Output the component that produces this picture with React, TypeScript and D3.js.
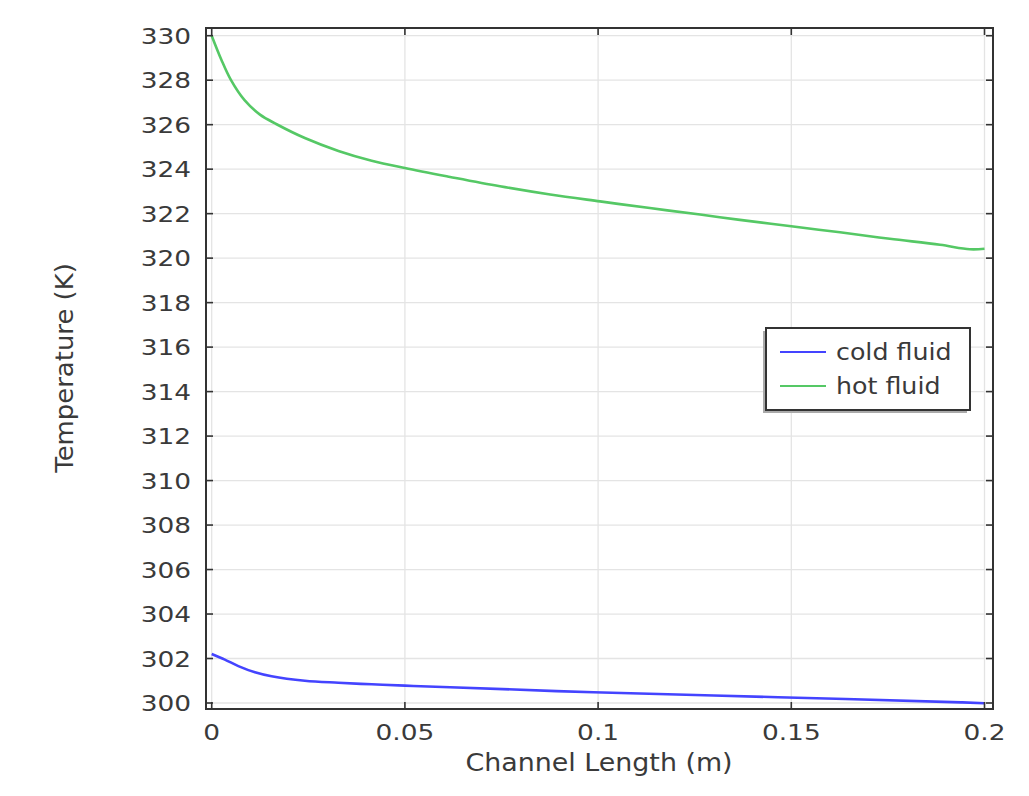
import React from "react";
import * as d3 from "d3";

const hotX = [0, 0.0025, 0.005, 0.0085, 0.0125, 0.0168, 0.0241, 0.0328, 0.0414, 0.05, 0.0617, 0.0746, 0.0876, 0.1005, 0.1134, 0.1264, 0.1367, 0.15, 0.1626, 0.1755, 0.1885, 0.1962, 0.2];
const hotT = [330, 328.92, 328.0, 327.1, 326.45, 326.02, 325.4, 324.82, 324.38, 324.05, 323.65, 323.23, 322.86, 322.55, 322.25, 321.96, 321.72, 321.43, 321.16, 320.87, 320.6, 320.4, 320.42];
const coldX = [0, 0.0034, 0.0069, 0.0112, 0.0155, 0.0241, 0.0328, 0.0414, 0.05, 0.0617, 0.0988, 0.1466, 0.194, 0.2];
const coldT = [302.2, 301.95, 301.66, 301.38, 301.2, 301.0, 300.91, 300.84, 300.78, 300.71, 300.48, 300.26, 300.03, 299.99];
const xTicks = [0, 0.05, 0.1, 0.15, 0.2];
const xTickLabels = ["0", "0.05", "0.1", "0.15", "0.2"];
const yTicks = [300, 302, 304, 306, 308, 310, 312, 314, 316, 318, 320, 322, 324, 326, 328, 330];
const seriesNames = ["cold fluid", "hot fluid"];
const seriesColors = ["#4444ff", "#55c865"];

const W = 1029, H = 796;
const frame = { left: 206, right: 993, top: 28, bottom: 709 };
const FONT = "'DejaVu Sans', Verdana, sans-serif";

export default function App() {
  const x = d3.scaleLinear().domain([0, 0.2]).range([211.7, 984.5]);
  const y = d3.scaleLinear().domain([300, 330]).range([703, 35.7]);
  const line = d3.line<[number, number]>().x(d => x(d[0])).y(d => y(d[1])).curve(d3.curveCatmullRom.alpha(0.5));
  const hot = hotX.map((v, i) => [v, hotT[i]] as [number, number]);
  const cold = coldX.map((v, i) => [v, coldT[i]] as [number, number]);
  const series = [cold, hot];
  const tk = 7;
  const lx = 766, ly = 328, lw = 204, lh = 82;
  const txt = "#3a3a3a";
  return (
    <svg width={W} height={H} style={{ position: "absolute", left: 0, top: 0, background: "#fff" }} fontFamily={FONT}>
      <rect width={W} height={H} fill="#fff" />
      {xTicks.map(t => (
        <line key={"gx" + t} x1={x(t)} x2={x(t)} y1={frame.top} y2={frame.bottom} stroke="#e4e4e4" strokeWidth={1.3} />
      ))}
      {yTicks.map(t => (
        <line key={"gy" + t} x1={frame.left} x2={frame.right} y1={y(t)} y2={y(t)} stroke="#e4e4e4" strokeWidth={1.3} />
      ))}
      {series.map((s, i) => (
        <path key={"s" + i} d={line(s) || ""} fill="none" stroke={seriesColors[i]} strokeWidth={2.6} />
      ))}
      <rect x={frame.left} y={frame.top} width={frame.right - frame.left} height={frame.bottom - frame.top} fill="none" stroke="#333" strokeWidth={2} />
      {xTicks.map(t => (
        <g key={"tx" + t}>
          <line x1={x(t)} x2={x(t)} y1={frame.bottom} y2={frame.bottom - tk} stroke="#333" strokeWidth={1.6} />
          <line x1={x(t)} x2={x(t)} y1={frame.top} y2={frame.top + tk} stroke="#333" strokeWidth={1.6} />
        </g>
      ))}
      {yTicks.map(t => (
        <g key={"ty" + t}>
          <line x1={frame.left} x2={frame.left + tk} y1={y(t)} y2={y(t)} stroke="#333" strokeWidth={1.6} />
          <line x1={frame.right} x2={frame.right - tk} y1={y(t)} y2={y(t)} stroke="#333" strokeWidth={1.6} />
        </g>
      ))}
      {xTicks.map((t, i) => (
        <text key={"lx" + t} transform={`translate(${x(t)},740) scale(1.2,1)`} textAnchor="middle" fontSize={22} fill={txt}>{xTickLabels[i]}</text>
      ))}
      {yTicks.map(t => (
        <text key={"ly" + t} transform={`translate(191,${y(t) + 8}) scale(1.2,1)`} textAnchor="end" fontSize={22} fill={txt}>{t}</text>
      ))}
      <text transform={`translate(599,771) scale(1.12,1)`} textAnchor="middle" fontSize={24} fill={txt}>Channel Length (m)</text>
      <text transform={`translate(73,368) rotate(-90) scale(1.08,1)`} textAnchor="middle" fontSize={24} fill={txt}>Temperature (K)</text>
      <rect x={lx - 3} y={ly + 3} width={lw} height={lh} fill="#aaa" />
      <rect x={lx} y={ly} width={lw} height={lh} fill="#fff" stroke="#333" strokeWidth={2} />
      {seriesNames.map((n, i) => (
        <g key={"lg" + i}>
          <line x1={780} x2={826} y1={352 + i * 34} y2={352 + i * 34} stroke={seriesColors[i]} strokeWidth={2.2} />
          <text transform={`translate(836,${352 + i * 34 + 8}) scale(1.1,1)`} fontSize={23} fill={txt}>{n}</text>
        </g>
      ))}
    </svg>
  );
}
